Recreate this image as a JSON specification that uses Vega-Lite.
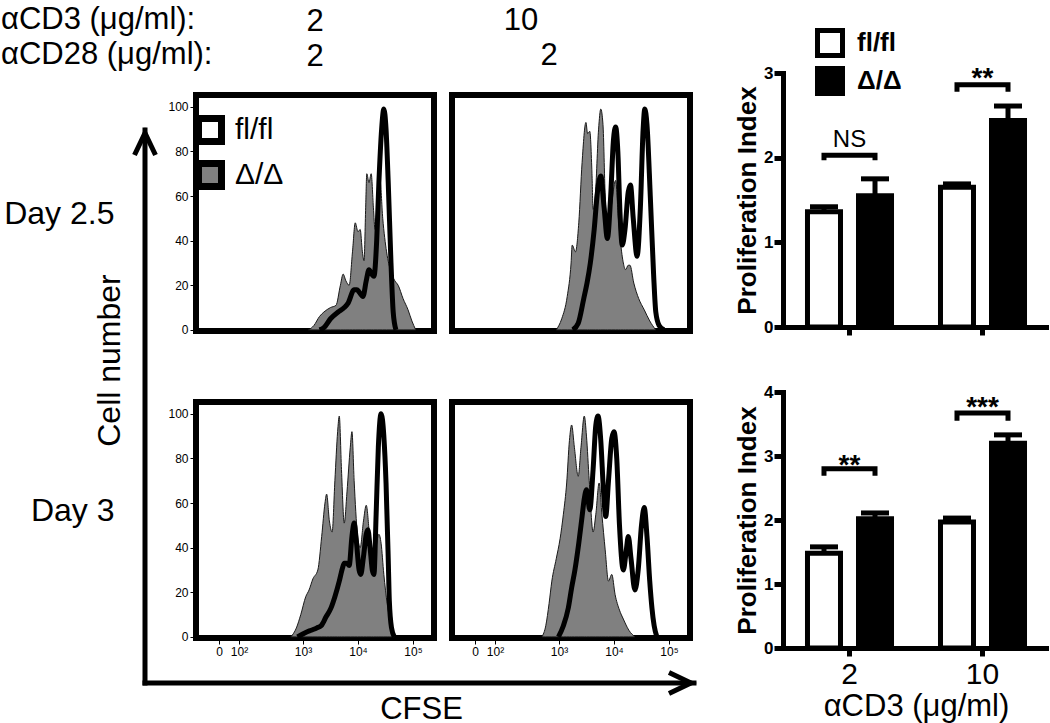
{
"$schema": "https://vega.github.io/schema/vega-lite/v6.json",
"padding": {"left": 0, "top": 2, "right": 0, "bottom": 0},
"background": "white",
"config": {
  "font": "Liberation Sans",
  "view": {"stroke": null},
  "axis": {"grid": false, "domainColor": "black", "tickColor": "black", "labelColor": "black", "titleColor": "black", "domainCap": "square"},
  "legend": {"labelColor": "black", "padding": 0},
  "title": {"color": "black", "font": "Liberation Sans"}
},
"datasets": {
  "hist": [
    {"panel":"TL","genotype":"Δ/Δ","cfse":3.10,"count":0},{"panel":"TL","genotype":"Δ/Δ","cfse":3.20,"count":2},{"panel":"TL","genotype":"Δ/Δ","cfse":3.30,"count":6},{"panel":"TL","genotype":"Δ/Δ","cfse":3.38,"count":8},{"panel":"TL","genotype":"Δ/Δ","cfse":3.50,"count":10},{"panel":"TL","genotype":"Δ/Δ","cfse":3.60,"count":11},{"panel":"TL","genotype":"Δ/Δ","cfse":3.68,"count":20},{"panel":"TL","genotype":"Δ/Δ","cfse":3.73,"count":25},{"panel":"TL","genotype":"Δ/Δ","cfse":3.78,"count":22},{"panel":"TL","genotype":"Δ/Δ","cfse":3.84,"count":20},{"panel":"TL","genotype":"Δ/Δ","cfse":3.90,"count":35},{"panel":"TL","genotype":"Δ/Δ","cfse":3.95,"count":48},{"panel":"TL","genotype":"Δ/Δ","cfse":4.00,"count":44},{"panel":"TL","genotype":"Δ/Δ","cfse":4.04,"count":45},{"panel":"TL","genotype":"Δ/Δ","cfse":4.08,"count":35},{"panel":"TL","genotype":"Δ/Δ","cfse":4.11,"count":31},{"panel":"TL","genotype":"Δ/Δ","cfse":4.14,"count":55},{"panel":"TL","genotype":"Δ/Δ","cfse":4.16,"count":70},{"panel":"TL","genotype":"Δ/Δ","cfse":4.20,"count":66},{"panel":"TL","genotype":"Δ/Δ","cfse":4.24,"count":70},{"panel":"TL","genotype":"Δ/Δ","cfse":4.28,"count":55},{"panel":"TL","genotype":"Δ/Δ","cfse":4.31,"count":45},{"panel":"TL","genotype":"Δ/Δ","cfse":4.36,"count":60},{"panel":"TL","genotype":"Δ/Δ","cfse":4.40,"count":67},{"panel":"TL","genotype":"Δ/Δ","cfse":4.45,"count":50},{"panel":"TL","genotype":"Δ/Δ","cfse":4.52,"count":35},{"panel":"TL","genotype":"Δ/Δ","cfse":4.60,"count":26},{"panel":"TL","genotype":"Δ/Δ","cfse":4.67,"count":22},{"panel":"TL","genotype":"Δ/Δ","cfse":4.73,"count":20},{"panel":"TL","genotype":"Δ/Δ","cfse":4.82,"count":14},{"panel":"TL","genotype":"Δ/Δ","cfse":4.91,"count":9},{"panel":"TL","genotype":"Δ/Δ","cfse":4.98,"count":4},{"panel":"TL","genotype":"Δ/Δ","cfse":5.05,"count":0},
    {"panel":"TL","genotype":"fl/fl","cfse":3.30,"count":0},{"panel":"TL","genotype":"fl/fl","cfse":3.38,"count":1},{"panel":"TL","genotype":"fl/fl","cfse":3.50,"count":5},{"panel":"TL","genotype":"fl/fl","cfse":3.64,"count":8},{"panel":"TL","genotype":"fl/fl","cfse":3.75,"count":10},{"panel":"TL","genotype":"fl/fl","cfse":3.82,"count":12},{"panel":"TL","genotype":"fl/fl","cfse":3.93,"count":18},{"panel":"TL","genotype":"fl/fl","cfse":3.98,"count":18},{"panel":"TL","genotype":"fl/fl","cfse":4.02,"count":17},{"panel":"TL","genotype":"fl/fl","cfse":4.09,"count":15},{"panel":"TL","genotype":"fl/fl","cfse":4.15,"count":22},{"panel":"TL","genotype":"fl/fl","cfse":4.20,"count":27},{"panel":"TL","genotype":"fl/fl","cfse":4.25,"count":25},{"panel":"TL","genotype":"fl/fl","cfse":4.29,"count":24},{"panel":"TL","genotype":"fl/fl","cfse":4.34,"count":40},{"panel":"TL","genotype":"fl/fl","cfse":4.38,"count":66},{"panel":"TL","genotype":"fl/fl","cfse":4.43,"count":90},{"panel":"TL","genotype":"fl/fl","cfse":4.47,"count":99},{"panel":"TL","genotype":"fl/fl","cfse":4.51,"count":90},{"panel":"TL","genotype":"fl/fl","cfse":4.55,"count":66},{"panel":"TL","genotype":"fl/fl","cfse":4.60,"count":30},{"panel":"TL","genotype":"fl/fl","cfse":4.64,"count":8},{"panel":"TL","genotype":"fl/fl","cfse":4.69,"count":0},
    {"panel":"TR","genotype":"Δ/Δ","cfse":2.95,"count":0},{"panel":"TR","genotype":"Δ/Δ","cfse":3.05,"count":5},{"panel":"TR","genotype":"Δ/Δ","cfse":3.15,"count":15},{"panel":"TR","genotype":"Δ/Δ","cfse":3.22,"count":30},{"panel":"TR","genotype":"Δ/Δ","cfse":3.24,"count":38},{"panel":"TR","genotype":"Δ/Δ","cfse":3.30,"count":35},{"panel":"TR","genotype":"Δ/Δ","cfse":3.36,"count":48},{"panel":"TR","genotype":"Δ/Δ","cfse":3.42,"count":75},{"panel":"TR","genotype":"Δ/Δ","cfse":3.49,"count":93},{"panel":"TR","genotype":"Δ/Δ","cfse":3.52,"count":88},{"panel":"TR","genotype":"Δ/Δ","cfse":3.56,"count":89},{"panel":"TR","genotype":"Δ/Δ","cfse":3.60,"count":70},{"panel":"TR","genotype":"Δ/Δ","cfse":3.62,"count":54},{"panel":"TR","genotype":"Δ/Δ","cfse":3.66,"count":60},{"panel":"TR","genotype":"Δ/Δ","cfse":3.72,"count":90},{"panel":"TR","genotype":"Δ/Δ","cfse":3.76,"count":99},{"panel":"TR","genotype":"Δ/Δ","cfse":3.80,"count":92},{"panel":"TR","genotype":"Δ/Δ","cfse":3.84,"count":60},{"panel":"TR","genotype":"Δ/Δ","cfse":3.88,"count":41},{"panel":"TR","genotype":"Δ/Δ","cfse":3.95,"count":55},{"panel":"TR","genotype":"Δ/Δ","cfse":4.03,"count":67},{"panel":"TR","genotype":"Δ/Δ","cfse":4.08,"count":50},{"panel":"TR","genotype":"Δ/Δ","cfse":4.12,"count":39},{"panel":"TR","genotype":"Δ/Δ","cfse":4.17,"count":30},{"panel":"TR","genotype":"Δ/Δ","cfse":4.21,"count":27},{"panel":"TR","genotype":"Δ/Δ","cfse":4.26,"count":29},{"panel":"TR","genotype":"Δ/Δ","cfse":4.29,"count":29},{"panel":"TR","genotype":"Δ/Δ","cfse":4.36,"count":21},{"panel":"TR","genotype":"Δ/Δ","cfse":4.45,"count":14},{"panel":"TR","genotype":"Δ/Δ","cfse":4.55,"count":9},{"panel":"TR","genotype":"Δ/Δ","cfse":4.65,"count":4},{"panel":"TR","genotype":"Δ/Δ","cfse":4.76,"count":0},
    {"panel":"TR","genotype":"fl/fl","cfse":3.25,"count":0},{"panel":"TR","genotype":"fl/fl","cfse":3.35,"count":3},{"panel":"TR","genotype":"fl/fl","cfse":3.45,"count":14},{"panel":"TR","genotype":"fl/fl","cfse":3.51,"count":21},{"panel":"TR","genotype":"fl/fl","cfse":3.57,"count":30},{"panel":"TR","genotype":"fl/fl","cfse":3.64,"count":45},{"panel":"TR","genotype":"fl/fl","cfse":3.70,"count":62},{"panel":"TR","genotype":"fl/fl","cfse":3.76,"count":69},{"panel":"TR","genotype":"fl/fl","cfse":3.82,"count":55},{"panel":"TR","genotype":"fl/fl","cfse":3.88,"count":41},{"panel":"TR","genotype":"fl/fl","cfse":3.94,"count":60},{"panel":"TR","genotype":"fl/fl","cfse":3.99,"count":85},{"panel":"TR","genotype":"fl/fl","cfse":4.03,"count":91},{"panel":"TR","genotype":"fl/fl","cfse":4.07,"count":80},{"panel":"TR","genotype":"fl/fl","cfse":4.11,"count":52},{"panel":"TR","genotype":"fl/fl","cfse":4.15,"count":38},{"panel":"TR","genotype":"fl/fl","cfse":4.20,"count":45},{"panel":"TR","genotype":"fl/fl","cfse":4.26,"count":62},{"panel":"TR","genotype":"fl/fl","cfse":4.30,"count":65},{"panel":"TR","genotype":"fl/fl","cfse":4.35,"count":50},{"panel":"TR","genotype":"fl/fl","cfse":4.42,"count":33},{"panel":"TR","genotype":"fl/fl","cfse":4.48,"count":55},{"panel":"TR","genotype":"fl/fl","cfse":4.53,"count":90},{"panel":"TR","genotype":"fl/fl","cfse":4.56,"count":99},{"panel":"TR","genotype":"fl/fl","cfse":4.60,"count":92},{"panel":"TR","genotype":"fl/fl","cfse":4.66,"count":60},{"panel":"TR","genotype":"fl/fl","cfse":4.72,"count":25},{"panel":"TR","genotype":"fl/fl","cfse":4.76,"count":8},{"panel":"TR","genotype":"fl/fl","cfse":4.82,"count":2},{"panel":"TR","genotype":"fl/fl","cfse":4.91,"count":0},
    {"panel":"BL","genotype":"Δ/Δ","cfse":2.78,"count":0},{"panel":"BL","genotype":"Δ/Δ","cfse":2.88,"count":4},{"panel":"BL","genotype":"Δ/Δ","cfse":2.96,"count":10},{"panel":"BL","genotype":"Δ/Δ","cfse":3.05,"count":18},{"panel":"BL","genotype":"Δ/Δ","cfse":3.11,"count":21},{"panel":"BL","genotype":"Δ/Δ","cfse":3.18,"count":26},{"panel":"BL","genotype":"Δ/Δ","cfse":3.27,"count":30},{"panel":"BL","genotype":"Δ/Δ","cfse":3.34,"count":45},{"panel":"BL","genotype":"Δ/Δ","cfse":3.40,"count":60},{"panel":"BL","genotype":"Δ/Δ","cfse":3.43,"count":64},{"panel":"BL","genotype":"Δ/Δ","cfse":3.48,"count":52},{"panel":"BL","genotype":"Δ/Δ","cfse":3.53,"count":47},{"panel":"BL","genotype":"Δ/Δ","cfse":3.58,"count":70},{"panel":"BL","genotype":"Δ/Δ","cfse":3.63,"count":92},{"panel":"BL","genotype":"Δ/Δ","cfse":3.66,"count":99},{"panel":"BL","genotype":"Δ/Δ","cfse":3.70,"count":75},{"panel":"BL","genotype":"Δ/Δ","cfse":3.75,"count":51},{"panel":"BL","genotype":"Δ/Δ","cfse":3.80,"count":65},{"panel":"BL","genotype":"Δ/Δ","cfse":3.86,"count":85},{"panel":"BL","genotype":"Δ/Δ","cfse":3.89,"count":92},{"panel":"BL","genotype":"Δ/Δ","cfse":3.93,"count":70},{"panel":"BL","genotype":"Δ/Δ","cfse":3.99,"count":46},{"panel":"BL","genotype":"Δ/Δ","cfse":4.04,"count":40},{"panel":"BL","genotype":"Δ/Δ","cfse":4.10,"count":52},{"panel":"BL","genotype":"Δ/Δ","cfse":4.15,"count":59},{"panel":"BL","genotype":"Δ/Δ","cfse":4.20,"count":48},{"panel":"BL","genotype":"Δ/Δ","cfse":4.25,"count":30},{"panel":"BL","genotype":"Δ/Δ","cfse":4.28,"count":28},{"panel":"BL","genotype":"Δ/Δ","cfse":4.33,"count":40},{"panel":"BL","genotype":"Δ/Δ","cfse":4.38,"count":46},{"panel":"BL","genotype":"Δ/Δ","cfse":4.42,"count":42},{"panel":"BL","genotype":"Δ/Δ","cfse":4.47,"count":28},{"panel":"BL","genotype":"Δ/Δ","cfse":4.53,"count":15},{"panel":"BL","genotype":"Δ/Δ","cfse":4.58,"count":8},{"panel":"BL","genotype":"Δ/Δ","cfse":4.66,"count":0},
    {"panel":"BL","genotype":"fl/fl","cfse":2.90,"count":0},{"panel":"BL","genotype":"fl/fl","cfse":3.05,"count":2},{"panel":"BL","genotype":"fl/fl","cfse":3.15,"count":3},{"panel":"BL","genotype":"fl/fl","cfse":3.25,"count":4},{"panel":"BL","genotype":"fl/fl","cfse":3.33,"count":5},{"panel":"BL","genotype":"fl/fl","cfse":3.42,"count":9},{"panel":"BL","genotype":"fl/fl","cfse":3.51,"count":13},{"panel":"BL","genotype":"fl/fl","cfse":3.58,"count":18},{"panel":"BL","genotype":"fl/fl","cfse":3.66,"count":25},{"panel":"BL","genotype":"fl/fl","cfse":3.72,"count":31},{"panel":"BL","genotype":"fl/fl","cfse":3.75,"count":33},{"panel":"BL","genotype":"fl/fl","cfse":3.80,"count":33},{"panel":"BL","genotype":"fl/fl","cfse":3.84,"count":32},{"panel":"BL","genotype":"fl/fl","cfse":3.89,"count":45},{"panel":"BL","genotype":"fl/fl","cfse":3.93,"count":51},{"panel":"BL","genotype":"fl/fl","cfse":3.97,"count":43},{"panel":"BL","genotype":"fl/fl","cfse":4.02,"count":30},{"panel":"BL","genotype":"fl/fl","cfse":4.05,"count":28},{"panel":"BL","genotype":"fl/fl","cfse":4.10,"count":36},{"panel":"BL","genotype":"fl/fl","cfse":4.15,"count":46},{"panel":"BL","genotype":"fl/fl","cfse":4.18,"count":48},{"panel":"BL","genotype":"fl/fl","cfse":4.22,"count":40},{"panel":"BL","genotype":"fl/fl","cfse":4.26,"count":30},{"panel":"BL","genotype":"fl/fl","cfse":4.29,"count":28},{"panel":"BL","genotype":"fl/fl","cfse":4.33,"count":55},{"panel":"BL","genotype":"fl/fl","cfse":4.37,"count":85},{"panel":"BL","genotype":"fl/fl","cfse":4.42,"count":100},{"panel":"BL","genotype":"fl/fl","cfse":4.47,"count":90},{"panel":"BL","genotype":"fl/fl","cfse":4.51,"count":69},{"panel":"BL","genotype":"fl/fl","cfse":4.55,"count":35},{"panel":"BL","genotype":"fl/fl","cfse":4.57,"count":16},{"panel":"BL","genotype":"fl/fl","cfse":4.61,"count":4},{"panel":"BL","genotype":"fl/fl","cfse":4.66,"count":0},
    {"panel":"BR","genotype":"Δ/Δ","cfse":2.69,"count":0},{"panel":"BR","genotype":"Δ/Δ","cfse":2.76,"count":5},{"panel":"BR","genotype":"Δ/Δ","cfse":2.82,"count":15},{"panel":"BR","genotype":"Δ/Δ","cfse":2.87,"count":25},{"panel":"BR","genotype":"Δ/Δ","cfse":2.95,"count":35},{"panel":"BR","genotype":"Δ/Δ","cfse":3.02,"count":44},{"panel":"BR","genotype":"Δ/Δ","cfse":3.08,"count":55},{"panel":"BR","genotype":"Δ/Δ","cfse":3.14,"count":69},{"panel":"BR","genotype":"Δ/Δ","cfse":3.19,"count":88},{"panel":"BR","genotype":"Δ/Δ","cfse":3.23,"count":95},{"panel":"BR","genotype":"Δ/Δ","cfse":3.28,"count":85},{"panel":"BR","genotype":"Δ/Δ","cfse":3.35,"count":72},{"panel":"BR","genotype":"Δ/Δ","cfse":3.40,"count":85},{"panel":"BR","genotype":"Δ/Δ","cfse":3.46,"count":99},{"panel":"BR","genotype":"Δ/Δ","cfse":3.50,"count":90},{"panel":"BR","genotype":"Δ/Δ","cfse":3.55,"count":70},{"panel":"BR","genotype":"Δ/Δ","cfse":3.62,"count":47},{"panel":"BR","genotype":"Δ/Δ","cfse":3.67,"count":55},{"panel":"BR","genotype":"Δ/Δ","cfse":3.73,"count":69},{"panel":"BR","genotype":"Δ/Δ","cfse":3.78,"count":55},{"panel":"BR","genotype":"Δ/Δ","cfse":3.84,"count":39},{"panel":"BR","genotype":"Δ/Δ","cfse":3.90,"count":25},{"panel":"BR","genotype":"Δ/Δ","cfse":3.96,"count":28},{"panel":"BR","genotype":"Δ/Δ","cfse":4.02,"count":19},{"panel":"BR","genotype":"Δ/Δ","cfse":4.10,"count":12},{"panel":"BR","genotype":"Δ/Δ","cfse":4.17,"count":8},{"panel":"BR","genotype":"Δ/Δ","cfse":4.27,"count":3},{"panel":"BR","genotype":"Δ/Δ","cfse":4.38,"count":0},
    {"panel":"BR","genotype":"fl/fl","cfse":2.99,"count":0},{"panel":"BR","genotype":"fl/fl","cfse":3.08,"count":5},{"panel":"BR","genotype":"fl/fl","cfse":3.17,"count":13},{"panel":"BR","genotype":"fl/fl","cfse":3.23,"count":22},{"panel":"BR","genotype":"fl/fl","cfse":3.29,"count":30},{"panel":"BR","genotype":"fl/fl","cfse":3.36,"count":42},{"panel":"BR","genotype":"fl/fl","cfse":3.42,"count":54},{"panel":"BR","genotype":"fl/fl","cfse":3.46,"count":62},{"panel":"BR","genotype":"fl/fl","cfse":3.50,"count":66},{"panel":"BR","genotype":"fl/fl","cfse":3.56,"count":57},{"panel":"BR","genotype":"fl/fl","cfse":3.62,"count":75},{"panel":"BR","genotype":"fl/fl","cfse":3.67,"count":95},{"panel":"BR","genotype":"fl/fl","cfse":3.71,"count":99},{"panel":"BR","genotype":"fl/fl","cfse":3.76,"count":88},{"panel":"BR","genotype":"fl/fl","cfse":3.81,"count":65},{"panel":"BR","genotype":"fl/fl","cfse":3.85,"count":54},{"panel":"BR","genotype":"fl/fl","cfse":3.90,"count":70},{"panel":"BR","genotype":"fl/fl","cfse":3.96,"count":89},{"panel":"BR","genotype":"fl/fl","cfse":4.00,"count":92},{"panel":"BR","genotype":"fl/fl","cfse":4.05,"count":80},{"panel":"BR","genotype":"fl/fl","cfse":4.10,"count":50},{"panel":"BR","genotype":"fl/fl","cfse":4.17,"count":30},{"panel":"BR","genotype":"fl/fl","cfse":4.22,"count":38},{"panel":"BR","genotype":"fl/fl","cfse":4.26,"count":45},{"panel":"BR","genotype":"fl/fl","cfse":4.31,"count":35},{"panel":"BR","genotype":"fl/fl","cfse":4.38,"count":21},{"panel":"BR","genotype":"fl/fl","cfse":4.44,"count":30},{"panel":"BR","genotype":"fl/fl","cfse":4.50,"count":50},{"panel":"BR","genotype":"fl/fl","cfse":4.55,"count":58},{"panel":"BR","genotype":"fl/fl","cfse":4.60,"count":45},{"panel":"BR","genotype":"fl/fl","cfse":4.65,"count":25},{"panel":"BR","genotype":"fl/fl","cfse":4.69,"count":13},{"panel":"BR","genotype":"fl/fl","cfse":4.73,"count":5},{"panel":"BR","genotype":"fl/fl","cfse":4.78,"count":0}
  ],
  "bars": [
    {"chart":"top","dose":"2","genotype":"fl/fl","mean":1.36,"upper":1.42},
    {"chart":"top","dose":"2","genotype":"Δ/Δ","mean":1.55,"upper":1.75},
    {"chart":"top","dose":"10","genotype":"fl/fl","mean":1.65,"upper":1.69},
    {"chart":"top","dose":"10","genotype":"Δ/Δ","mean":2.44,"upper":2.61},
    {"chart":"bottom","dose":"2","genotype":"fl/fl","mean":1.48,"upper":1.58},
    {"chart":"bottom","dose":"2","genotype":"Δ/Δ","mean":2.02,"upper":2.11},
    {"chart":"bottom","dose":"10","genotype":"fl/fl","mean":1.97,"upper":2.03},
    {"chart":"bottom","dose":"10","genotype":"Δ/Δ","mean":3.20,"upper":3.33}
  ],
  "sig": [
    {"chart":"top","dose":"2","genotype":"fl/fl","y":1.97,"k":0},{"chart":"top","dose":"2","genotype":"fl/fl","y":2.03,"k":1},{"chart":"top","dose":"2","genotype":"Δ/Δ","y":2.03,"k":2},{"chart":"top","dose":"2","genotype":"Δ/Δ","y":1.97,"k":3},
    {"chart":"top","dose":"10","genotype":"fl/fl","y":2.78,"k":0},{"chart":"top","dose":"10","genotype":"fl/fl","y":2.86,"k":1},{"chart":"top","dose":"10","genotype":"Δ/Δ","y":2.86,"k":2},{"chart":"top","dose":"10","genotype":"Δ/Δ","y":2.78,"k":3},
    {"chart":"bottom","dose":"2","genotype":"fl/fl","y":2.69,"k":0},{"chart":"bottom","dose":"2","genotype":"fl/fl","y":2.80,"k":1},{"chart":"bottom","dose":"2","genotype":"Δ/Δ","y":2.80,"k":2},{"chart":"bottom","dose":"2","genotype":"Δ/Δ","y":2.69,"k":3},
    {"chart":"bottom","dose":"10","genotype":"fl/fl","y":3.55,"k":0},{"chart":"bottom","dose":"10","genotype":"fl/fl","y":3.67,"k":1},{"chart":"bottom","dose":"10","genotype":"Δ/Δ","y":3.67,"k":2},{"chart":"bottom","dose":"10","genotype":"Δ/Δ","y":3.55,"k":3}
  ],
  "siglab": [
    {"chart":"top","dose":"2","label":"NS","y":2.21},
    {"chart":"top","dose":"10","label":"**","y":2.93},
    {"chart":"bottom","dose":"2","label":"**","y":2.85},
    {"chart":"bottom","dose":"10","label":"***","y":3.75}
  ]
},
"spacing": 33,
"resolve": {"scale": {"fill": "independent"}, "legend": {"fill": "independent"}},
"hconcat": [
  {
    "columns": 3,
    "align": "each",
    "bounds": "flush",
    "spacing": {"row": 0, "column": 18},
    "resolve": {"scale": {"fill": "independent"}, "legend": {"fill": "independent"}},
    "concat": [
      {"width": 1, "height": 22, "data": {"values": [{}]}, "mark": {"type": "text", "text": ""}},
      {"width": 1, "height": 22, "data": {"values": [{}]}, "mark": {"type": "text", "text": ""}},
      {
        "width": 238, "height": 22, "data": {"values": [{}]}, "mark": {"type": "text", "text": ""},
        "title": {"text": "2", "anchor": "middle", "dx": -22, "baseline": "bottom", "offset": -30, "fontSize": 31, "fontWeight": "normal", "color": "black"}
      },
      {
        "width": 33, "height": 236,
        "data": {"values": [{}]},
        "title": {"text": ["αCD3 (μg/ml):", "αCD28 (μg/ml):"], "anchor": "start", "align": "left", "dx": -144, "baseline": "bottom", "offset": -7, "fontSize": 31, "fontWeight": "normal", "lineHeight": 35, "color": "black", "frame": "group"},
        "layer": [
          {
            "mark": {"type": "rule", "strokeWidth": 5, "color": "black", "strokeCap": "square"},
            "encoding": {
              "x": {"datum": 0, "type": "quantitative", "scale": {"domain": [0, 1]}, "axis": null},
              "y": {"datum": -1.4915, "type": "quantitative", "scale": {"domain": [0, 1], "nice": false, "zero": false}, "axis": {"title": "Cell number", "domain": false, "ticks": false, "labels": false, "grid": false, "titleFontSize": 32, "titleFontWeight": "normal", "titlePadding": 19, "titleY": 265}},
              "y2": {"datum": 0.8517}
            }
          },
          {
            "mark": {"type": "point", "shape": "M -1.05 2.5 L 0 0.3 L 1.05 2.5", "size": 400, "filled": false, "stroke": "black", "strokeWidth": 5, "opacity": 1, "strokeJoin": "miter"},
            "encoding": {
              "x": {"datum": 0, "type": "quantitative"},
              "y": {"datum": 0.8517, "type": "quantitative"}
            }
          }
        ]
      },
      {
        "width": 238, "height": 236,
        "view": {"stroke": "black", "strokeWidth": 6},
        "title": {"text": ["2", "2"], "anchor": "middle", "baseline": "bottom", "offset": -9, "fontSize": 31, "fontWeight": "normal", "lineHeight": 35, "color": "black"},
        "data": {"name": "hist"},
        "transform": [{"filter": {"field": "panel", "equal": "TL"}}],
        "encoding": {
          "x": {"field": "cfse", "type": "quantitative", "scale": {"domain": [1.055, 5.382], "nice": false, "zero": false}, "axis": null},
          "y": {"field": "count", "type": "quantitative", "scale": {"domain": [-0.5, 105.3], "nice": false, "zero": false},
                "axis": {"values": [0, 20, 40, 60, 80, 100], "domain": false, "grid": false, "tickSize": 6, "labelFontSize": 12, "labelPadding": 2, "title": "Day 2.5", "titleAngle": 0, "titleAlign": "right", "titleBaseline": "middle", "titleFontSize": 32, "titleFontWeight": "normal", "titlePadding": 54}}
        },
        "layer": [
          {
            "transform": [{"filter": {"field": "genotype", "equal": "Δ/Δ"}}],
            "mark": {"type": "area", "interpolate": "monotone", "stroke": "#1a1a1a", "strokeWidth": 1, "opacity": 1},
            "encoding": {
              "fill": {"field": "genotype", "type": "nominal", "scale": {"domain": ["fl/fl", "Δ/Δ"], "range": ["white", "#808080"]},
                       "legend": {"orient": "none", "legendX": -1, "legendY": 20, "title": null, "symbolType": "square", "symbolSize": 529, "symbolStrokeColor": "black", "symbolStrokeWidth": 7, "symbolOpacity": 1, "labelFontSize": 30, "labelOffset": 10, "rowPadding": -7}}
            }
          },
          {
            "transform": [{"filter": {"field": "genotype", "equal": "fl/fl"}}],
            "mark": {"type": "line", "interpolate": "monotone", "color": "black", "strokeWidth": 5}
          }
        ]
      },
      {
        "width": 238, "height": 236,
        "view": {"stroke": "black", "strokeWidth": 6},
        "title": {"text": "10", "anchor": "middle", "dx": -50, "baseline": "bottom", "offset": 27, "fontSize": 31, "fontWeight": "normal", "color": "black"},
        "data": {"name": "hist"},
        "transform": [{"filter": {"field": "panel", "equal": "TR"}}],
        "encoding": {
          "x": {"field": "cfse", "type": "quantitative", "scale": {"domain": [1.055, 5.382], "nice": false, "zero": false}, "axis": null},
          "y": {"field": "count", "type": "quantitative", "scale": {"domain": [-0.5, 105.3], "nice": false, "zero": false}, "axis": null}
        },
        "layer": [
          {
            "transform": [{"filter": {"field": "genotype", "equal": "Δ/Δ"}}],
            "mark": {"type": "area", "interpolate": "monotone", "fill": "#808080", "stroke": "#1a1a1a", "strokeWidth": 1, "opacity": 1}
          },
          {
            "transform": [{"filter": {"field": "genotype", "equal": "fl/fl"}}],
            "mark": {"type": "line", "interpolate": "monotone", "color": "black", "strokeWidth": 5}
          }
        ]
      },
      {"width": 1, "height": 71, "data": {"values": [{}]}, "mark": {"type": "text", "text": ""}},
      {"width": 1, "height": 71, "data": {"values": [{}]}, "mark": {"type": "text", "text": ""}},
      {"width": 1, "height": 71, "data": {"values": [{}]}, "mark": {"type": "text", "text": ""}},
      {"width": 1, "height": 236, "data": {"values": [{}]}, "mark": {"type": "text", "text": ""}},
      {
        "width": 238, "height": 236,
        "view": {"stroke": "black", "strokeWidth": 6},
        "data": {"name": "hist"},
        "transform": [{"filter": {"field": "panel", "equal": "BL"}}],
        "encoding": {
          "x": {"field": "cfse", "type": "quantitative", "scale": {"domain": [1.055, 5.382], "nice": false, "zero": false},
                "axis": {"values": [1.473, 1.836, 3, 4, 5], "labelExpr": "datum.value < 1.6 ? '0' : datum.value < 2 ? '10²' : datum.value < 3.5 ? '10³' : datum.value < 4.5 ? '10⁴' : '10⁵'", "domain": false, "grid": false, "tickSize": 6, "labelFontSize": 12, "labelPadding": 2, "labelOverlap": false, "labelFlush": false, "title": null}},
          "y": {"field": "count", "type": "quantitative", "scale": {"domain": [-0.5, 105.3], "nice": false, "zero": false},
                "axis": {"values": [0, 20, 40, 60, 80, 100], "domain": false, "grid": false, "tickSize": 6, "labelFontSize": 12, "labelPadding": 2, "title": "Day 3", "titleAngle": 0, "titleAlign": "right", "titleBaseline": "middle", "titleFontSize": 32, "titleFontWeight": "normal", "titlePadding": 54, "titleY": 108}}
        },
        "layer": [
          {
            "transform": [{"filter": {"field": "genotype", "equal": "Δ/Δ"}}],
            "mark": {"type": "area", "interpolate": "monotone", "fill": "#808080", "stroke": "#1a1a1a", "strokeWidth": 1, "opacity": 1}
          },
          {
            "transform": [{"filter": {"field": "genotype", "equal": "fl/fl"}}],
            "mark": {"type": "line", "interpolate": "monotone", "color": "black", "strokeWidth": 5}
          }
        ]
      },
      {
        "width": 238, "height": 236,
        "view": {"stroke": "black", "strokeWidth": 6},
        "data": {"name": "hist"},
        "transform": [{"filter": {"field": "panel", "equal": "BR"}}],
        "encoding": {
          "x": {"field": "cfse", "type": "quantitative", "scale": {"domain": [1.055, 5.382], "nice": false, "zero": false},
                "axis": {"values": [1.473, 1.836, 3, 4, 5], "labelExpr": "datum.value < 1.6 ? '0' : datum.value < 2 ? '10²' : datum.value < 3.5 ? '10³' : datum.value < 4.5 ? '10⁴' : '10⁵'", "domain": false, "grid": false, "tickSize": 6, "labelFontSize": 12, "labelPadding": 2, "labelOverlap": false, "labelFlush": false, "title": null}},
          "y": {"field": "count", "type": "quantitative", "scale": {"domain": [-0.5, 105.3], "nice": false, "zero": false}, "axis": null}
        },
        "layer": [
          {
            "transform": [{"filter": {"field": "genotype", "equal": "Δ/Δ"}}],
            "mark": {"type": "area", "interpolate": "monotone", "fill": "#808080", "stroke": "#1a1a1a", "strokeWidth": 1, "opacity": 1}
          },
          {
            "transform": [{"filter": {"field": "genotype", "equal": "fl/fl"}}],
            "mark": {"type": "line", "interpolate": "monotone", "color": "black", "strokeWidth": 5}
          }
        ]
      },
      {"width": 1, "height": 45, "data": {"values": [{}]}, "mark": {"type": "text", "text": ""}},
      {
        "width": 238, "height": 45,
        "data": {"values": [{}]},
        "layer": [
          {
            "mark": {"type": "rule", "strokeWidth": 5, "color": "black", "strokeCap": "square"},
            "encoding": {
              "x": {"datum": -0.2143, "type": "quantitative", "scale": {"domain": [0, 1], "nice": false, "zero": false}, "axis": {"title": "CFSE", "domain": false, "ticks": false, "labels": false, "grid": false, "titleFontSize": 31, "titleFontWeight": "normal", "titlePadding": 11, "titleX": 225}},
              "x2": {"datum": 2.0924},
              "y": {"datum": 0, "type": "quantitative", "scale": {"domain": [0, 1]}, "axis": null}
            }
          },
          {
            "mark": {"type": "point", "shape": "M -2.5 -1.05 L -0.3 0 L -2.5 1.05", "size": 400, "filled": false, "stroke": "black", "strokeWidth": 5, "opacity": 1, "strokeJoin": "miter"},
            "encoding": {
              "x": {"datum": 2.0924, "type": "quantitative"},
              "y": {"datum": 0, "type": "quantitative"}
            }
          }
        ]
      }
    ]
  },
  {
    "vconcat": [
      {
        "width": 266, "height": 254,
        "data": {"name": "bars"},
        "transform": [{"filter": {"field": "chart", "equal": "top"}}],
        "encoding": {
          "x": {"field": "dose", "type": "nominal", "sort": ["2", "10"], "scale": {"paddingInner": 0, "paddingOuter": 0},
                "axis": {"title": null, "labels": false, "domainWidth": 5, "tickWidth": 5, "tickSize": 8}}
        },
        "layer": [
          {
            "mark": {"type": "bar", "stroke": "black", "strokeWidth": 5},
            "encoding": {
              "xOffset": {"field": "genotype", "type": "nominal", "sort": ["fl/fl", "Δ/Δ"], "scale": {"paddingInner": 0.353, "paddingOuter": 0.48}},
              "y": {"field": "mean", "type": "quantitative", "scale": {"domain": [0, 3], "nice": false},
                    "axis": {"values": [0, 1, 2, 3], "format": ".0f", "domainWidth": 5, "tickWidth": 5, "tickSize": 9, "labelFontSize": 17, "labelFontWeight": "bold", "labelPadding": 1, "title": "Proliferation Index", "titleFontSize": 26, "titleFontWeight": "bold", "titlePadding": 3}},
              "fill": {"field": "genotype", "type": "nominal", "scale": {"domain": ["fl/fl", "Δ/Δ"], "range": ["white", "black"]},
                       "legend": {"orient": "none", "legendX": 32, "legendY": -45, "title": null, "symbolType": "square", "symbolSize": 625, "symbolStrokeColor": "black", "symbolStrokeWidth": 5, "symbolOpacity": 1, "labelFontSize": 26, "labelFontWeight": "bold", "labelOffset": 12, "rowPadding": -19}}
            }
          },
          {
            "mark": {"type": "rule", "strokeWidth": 5, "color": "black"},
            "encoding": {
              "xOffset": {"field": "genotype", "type": "nominal", "sort": ["fl/fl", "Δ/Δ"]},
              "y": {"field": "mean", "type": "quantitative"},
              "y2": {"field": "upper"}
            }
          },
          {
            "mark": {"type": "tick", "orient": "horizontal", "size": 28, "thickness": 5, "color": "black", "opacity": 1},
            "encoding": {
              "xOffset": {"field": "genotype", "type": "nominal", "sort": ["fl/fl", "Δ/Δ"]},
              "y": {"field": "upper", "type": "quantitative"}
            }
          },
          {
            "data": {"name": "sig"},
            "transform": [{"filter": {"field": "chart", "equal": "top"}}],
            "mark": {"type": "line", "strokeWidth": 5, "color": "black", "strokeJoin": "miter"},
            "encoding": {
              "xOffset": {"field": "genotype", "type": "nominal", "sort": ["fl/fl", "Δ/Δ"]},
              "y": {"field": "y", "type": "quantitative"},
              "detail": {"field": "dose"},
              "order": {"field": "k"}
            }
          },
          {
            "data": {"name": "siglab"},
            "transform": [{"filter": {"field": "chart", "equal": "top"}}, {"filter": "datum.label == 'NS'"}],
            "mark": {"type": "text", "fontSize": 24, "baseline": "middle", "align": "center", "color": "black"},
            "encoding": {"y": {"field": "y", "type": "quantitative"}, "text": {"field": "label"}}
          },
          {
            "data": {"name": "siglab"},
            "transform": [{"filter": {"field": "chart", "equal": "top"}}, {"filter": "datum.label != 'NS'"}],
            "mark": {"type": "text", "fontSize": 28, "fontWeight": "bold", "baseline": "middle", "align": "center", "color": "black"},
            "encoding": {"y": {"field": "y", "type": "quantitative"}, "text": {"field": "label"}}
          }
        ]
      },
      {
        "width": 266, "height": 256,
        "data": {"name": "bars"},
        "transform": [{"filter": {"field": "chart", "equal": "bottom"}}],
        "encoding": {
          "x": {"field": "dose", "type": "nominal", "sort": ["2", "10"], "scale": {"paddingInner": 0, "paddingOuter": 0},
                "axis": {"title": "αCD3 (μg/ml)", "labelAngle": 0, "labelFontSize": 30, "labelFontWeight": "normal", "labelPadding": 3, "titleFontSize": 31, "titleFontWeight": "normal", "titlePadding": 2, "domainWidth": 5, "tickWidth": 5, "tickSize": 8}}
        },
        "layer": [
          {
            "mark": {"type": "bar", "stroke": "black", "strokeWidth": 5},
            "encoding": {
              "xOffset": {"field": "genotype", "type": "nominal", "sort": ["fl/fl", "Δ/Δ"], "scale": {"paddingInner": 0.353, "paddingOuter": 0.48}},
              "y": {"field": "mean", "type": "quantitative", "scale": {"domain": [0, 4], "nice": false},
                    "axis": {"values": [0, 1, 2, 3, 4], "format": ".0f", "domainWidth": 5, "tickWidth": 5, "tickSize": 9, "labelFontSize": 17, "labelFontWeight": "bold", "labelPadding": 1, "title": "Proliferation Index", "titleFontSize": 26, "titleFontWeight": "bold", "titlePadding": 3}},
              "fill": {"field": "genotype", "type": "nominal", "scale": {"domain": ["fl/fl", "Δ/Δ"], "range": ["white", "black"]}, "legend": null}
            }
          },
          {
            "mark": {"type": "rule", "strokeWidth": 5, "color": "black"},
            "encoding": {
              "xOffset": {"field": "genotype", "type": "nominal", "sort": ["fl/fl", "Δ/Δ"]},
              "y": {"field": "mean", "type": "quantitative"},
              "y2": {"field": "upper"}
            }
          },
          {
            "mark": {"type": "tick", "orient": "horizontal", "size": 28, "thickness": 5, "color": "black", "opacity": 1},
            "encoding": {
              "xOffset": {"field": "genotype", "type": "nominal", "sort": ["fl/fl", "Δ/Δ"]},
              "y": {"field": "upper", "type": "quantitative"}
            }
          },
          {
            "data": {"name": "sig"},
            "transform": [{"filter": {"field": "chart", "equal": "bottom"}}],
            "mark": {"type": "line", "strokeWidth": 5, "color": "black", "strokeJoin": "miter"},
            "encoding": {
              "xOffset": {"field": "genotype", "type": "nominal", "sort": ["fl/fl", "Δ/Δ"]},
              "y": {"field": "y", "type": "quantitative"},
              "detail": {"field": "dose"},
              "order": {"field": "k"}
            }
          },
          {
            "data": {"name": "siglab"},
            "transform": [{"filter": {"field": "chart", "equal": "bottom"}}],
            "mark": {"type": "text", "fontSize": 28, "fontWeight": "bold", "baseline": "middle", "align": "center", "color": "black"},
            "encoding": {"y": {"field": "y", "type": "quantitative"}, "text": {"field": "label"}}
          }
        ]
      }
    ],
    "spacing": 65,
    "bounds": "flush",
    "resolve": {"scale": {"fill": "independent"}, "legend": {"fill": "independent"}}
  }
]
}
